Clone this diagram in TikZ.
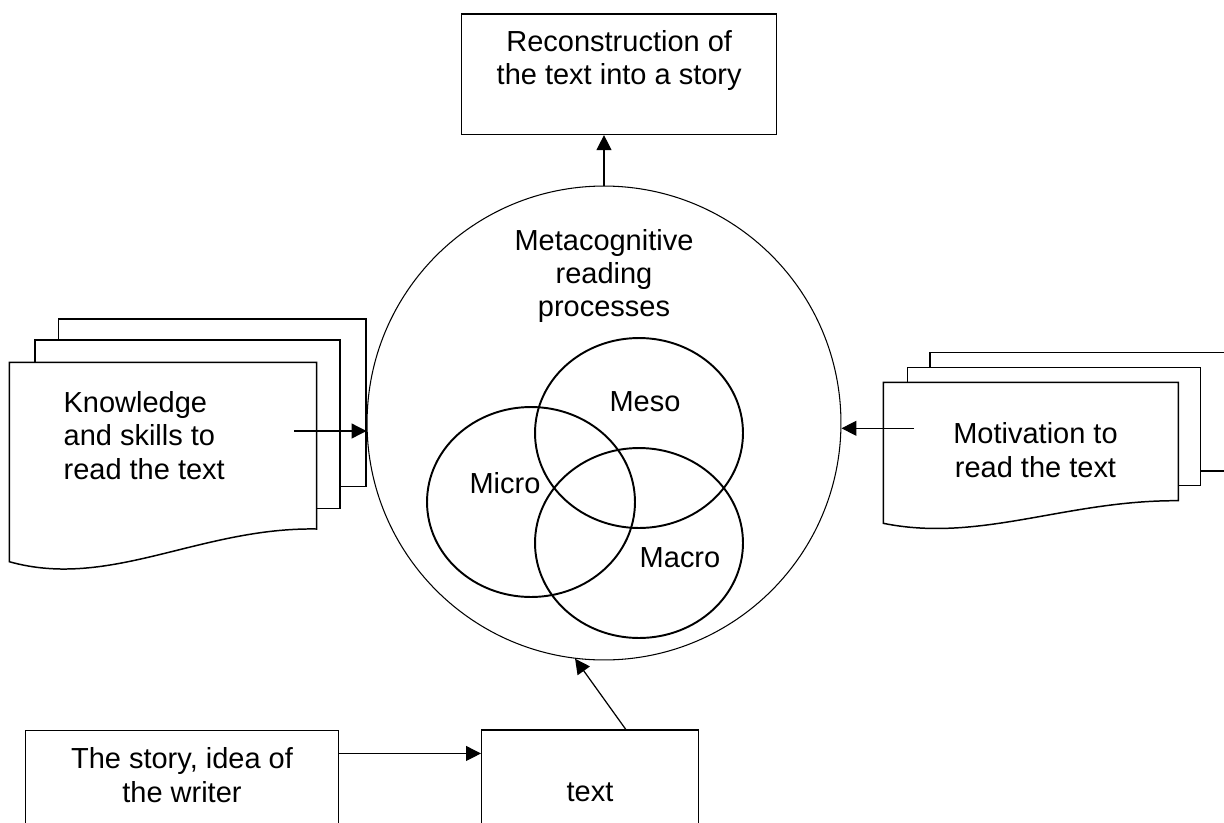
\documentclass[tikz,border=0pt]{standalone}
\usepackage{fontspec}
\setmainfont{Liberation Sans}
\usetikzlibrary{arrows.meta,shapes.geometric}

\begin{document}
\begin{tikzpicture}[x=0.02cm,y=-0.02cm,>={Triangle[length=8.5pt,width=8.5pt]},
		font=\fontsize{16.5}{19}\selectfont,
		box/.style={draw,line width=0.85pt,inner sep=0pt},
		page/.style={draw,fill=white,line width=0.85pt},
		venn/.style={ellipse,draw,line width=1.1pt,inner sep=0pt,minimum width=4.16cm,minimum height=3.8cm},
		txt/.style={inner sep=0pt,align=center},
		link/.style={->,line width=0.7pt}]
	\useasboundingbox (0,0) rectangle (1224,822);
	\clip (0,0) rectangle (1224,822);
	%% ========================================================
	% knowledge pages
	\draw[page] (58.3,319) rectangle (366,486.7);
	\draw[page] (35,340) rectangle (340,508.3);
	\draw[page] (9.3,362.3) -- (316.7,362.3) -- (316.7,529)
		.. controls (200,527) and (110,590) .. (9.3,561.7) -- cycle;
	\node[txt,align=left,anchor=west] (know) at (63.3,435.5) {Knowledge\\and skills to\\read the text};
	\coordinate (kstart) at (294,431);

	% motivation pages
	\draw[page] (930,352.3) rectangle (1240,471);
	\draw[page] (907.7,367.7) rectangle (1200.7,485.7);
	\draw[page] (883.3,382.3) -- (1178.3,382.3) -- (1178.3,500.7)
		.. controls (1066,500) and (980,543) .. (883.3,523.3) -- cycle;
	\node[txt] (motiv) at (1035.5,450) {Motivation to\\read the text};
	\coordinate (mstart) at (914,428.3);
	%% ========================================================
	\node[circle,draw,line width=0.6pt,inner sep=0pt,minimum size=9.48cm] (meta) at (604,423) {};
	\node[txt] (metatxt) at (604,276) {Metacognitive\\reading\\processes};

	\node[venn] (meso) at (639,433) {};
	\node[venn] (micro) at (531,502) {};
	\node[venn] (macro) at (639,543) {};
	\node[txt] (mesotxt) at (645,402) {Meso};
	\node[txt] (microtxt) at (505,483) {Micro};
	\node[txt] (macrotxt) at (680,558) {Macro};
	%% ========================================================
	\node[box,minimum width=6.3cm,minimum height=2.406cm] (recon) at (619.2,74.2) {};
	\node[txt] (recontxt) at (619.2,60.8) {Reconstruction of\\the text into a story};

	\node[box,minimum width=6.252cm,minimum height=2.5cm] (story) at (182,793.2) {};
	\node[txt] (storytxt) at (182,775) {The story, idea of\\the writer};

	\node[box,minimum width=4.332cm,minimum height=2.48cm] (text) at (590,792) {text};
	%% ========================================================
	\coordinate (sarrow) at ([yshift=-0.47cm]story.north east);
	\draw[link] (sarrow) -- (sarrow -| text.west);
	\draw[link] ([xshift=0.714cm]text.north) -- (meta.263.8);
	\draw[link] (meta.north) -- (meta.north |- recon.south);
	\draw[link] (kstart) -- (kstart -| meta.west);
	\draw[link] (mstart) -- (mstart -| meta.east);
\end{tikzpicture}
\end{document}
